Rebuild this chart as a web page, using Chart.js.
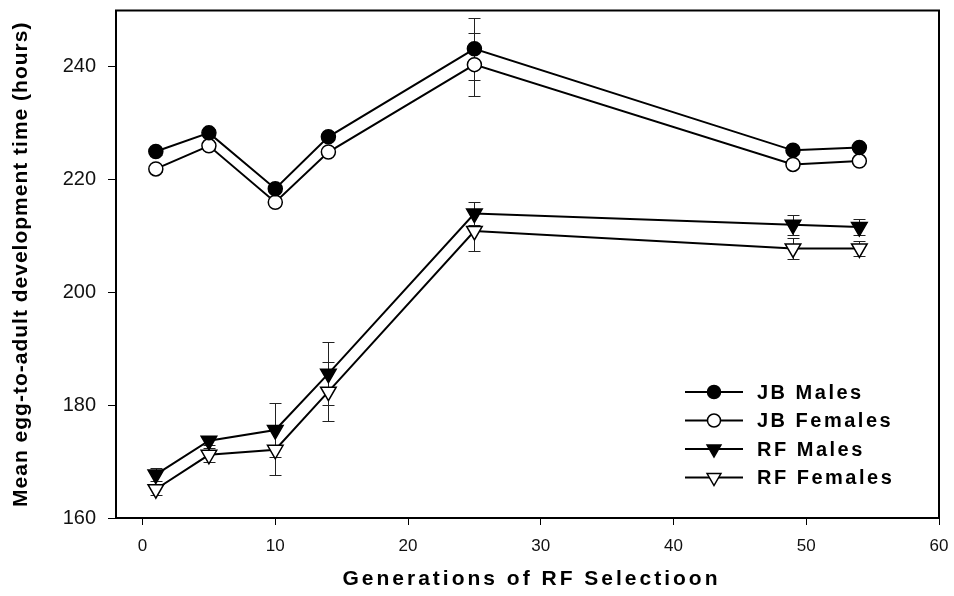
<!DOCTYPE html>
<html>
<head>
<meta charset="utf-8">
<script src="https://cdn.jsdelivr.net/npm/chart.js@4.4.1/dist/chart.umd.min.js"></script>
<style>
  html, body { margin: 0; padding: 0; background: #fff; }
  #box { width: 954px; height: 596px; }
</style>
</head>
<body>
<div id="box"><canvas id="grafico"></canvas></div>
<script>
// geracoes de selecao (eixo x)
var geracoes = [1, 5, 10, 14, 25, 49, 54];

// medias (horas)
var jbMachos = [225.0, 228.3, 218.4, 227.6, 243.2, 225.2, 225.7];
var jbFemeas = [221.9, 226.0, 216.0, 224.9, 240.4, 222.7, 223.3];
var rfMachos = [167.7, 173.7, 175.6, 185.6, 214.0, 212.0, 211.6];
var rfFemeas = [165.1, 171.2, 172.1, 182.4, 210.9, 207.8, 207.8];

// erro padrao
var erroJbMachos = [0.6, 0.6, 0.6, 0.6, 5.5, 0.6, 0.6];
var erroJbFemeas = [0.6, 0.6, 0.6, 0.6, 5.6, 0.6, 0.6];
var erroRfMachos = [1.1, 0.8, 4.8, 5.6, 2.0, 1.8, 1.4];
var erroRfFemeas = [1.0, 1.3, 4.4, 5.2, 3.5, 1.9, 1.3];

var ticksX = [0, 10, 20, 30, 40, 50, 60];
var ticksY = [160, 180, 200, 220, 240];

var tituloX = "Generations of RF Selectioon";
var tituloY = "Mean egg-to-adult development time (hours)";

var fonte = "Arial, 'Liberation Sans', sans-serif";

function pontos(valores) {
  var lista = [];
  for (var i = 0; i < geracoes.length; i++) {
    lista.push({ x: geracoes[i], y: valores[i] });
  }
  return lista;
}

function serie(nome, valores, erros, estilo, preenchido) {
  var triangulo = estilo == "triangle";
  return {
    label: nome,
    data: pontos(valores),
    erro: erros,
    borderColor: "black",
    borderWidth: 2,
    pointStyle: estilo,
    pointRotation: triangulo ? 180 : 0,
    pointRadius: triangulo ? 9 : 7,
    pointBorderWidth: 1.5,
    pointBorderColor: "black",
    pointBackgroundColor: preenchido ? "black" : "white",
    tension: 0,
    fill: false,
  };
}

// marcador desenhado a mao (legenda)
function marcador(ctx, ds, x, y) {
  var r = ds.pointStyle == "triangle" ? 8 : 6.5;
  ctx.beginPath();
  if (ds.pointStyle == "triangle") {
    ctx.moveTo(x - r * 0.866, y - r * 0.5);
    ctx.lineTo(x + r * 0.866, y - r * 0.5);
    ctx.lineTo(x, y + r);
    ctx.closePath();
  } else {
    ctx.arc(x, y, r, 0, Math.PI * 2);
  }
  ctx.fillStyle = ds.pointBackgroundColor;
  ctx.fill();
  ctx.lineWidth = 1.5;
  ctx.strokeStyle = "black";
  ctx.stroke();
}

var barrasErro = {
  id: "barrasErro",
  beforeDatasetsDraw: function (chart) {
    var ctx = chart.ctx;
    var sx = chart.scales.x;
    var sy = chart.scales.y;
    ctx.save();
    ctx.strokeStyle = "#222";
    ctx.lineWidth = 1;
    chart.data.datasets.forEach(function (ds) {
      ds.data.forEach(function (p, i) {
        var x = Math.round(sx.getPixelForValue(p.x)) + 0.5;
        var cima = Math.round(sy.getPixelForValue(p.y + ds.erro[i])) + 0.5;
        var baixo = Math.round(sy.getPixelForValue(p.y - ds.erro[i])) + 0.5;
        ctx.beginPath();
        ctx.moveTo(x, cima);
        ctx.lineTo(x, baixo);
        ctx.moveTo(x - 6, cima);
        ctx.lineTo(x + 6, cima);
        ctx.moveTo(x - 6, baixo);
        ctx.lineTo(x + 6, baixo);
        ctx.stroke();
      });
    });
    ctx.restore();
  },
};

var moldura = {
  id: "moldura",
  afterDraw: function (chart) {
    var ctx = chart.ctx;
    var a = chart.chartArea;
    ctx.save();

    // caixa do grafico
    ctx.strokeStyle = "black";
    ctx.lineWidth = 2;
    ctx.strokeRect(a.left, a.top, a.right - a.left, a.bottom - a.top);

    // titulos dos eixos
    ctx.fillStyle = "black";
    ctx.textAlign = "center";
    ctx.textBaseline = "middle";
    ctx.font = "bold 21px " + fonte;
    ctx.letterSpacing = "3px";
    ctx.fillText(tituloX, (a.left + a.right) / 2 + 4, 579);

    ctx.save();
    ctx.translate(21, (a.top + a.bottom) / 2);
    ctx.rotate(-Math.PI / 2);
    ctx.letterSpacing = "1px";
    ctx.fillText(tituloY, 0, 0);
    ctx.restore();

    // legenda
    ctx.font = "bold 20px " + fonte;
    ctx.letterSpacing = "2.5px";
    ctx.textAlign = "left";
    chart.data.datasets.forEach(function (ds, i) {
      var y = a.bottom - 126 + i * 28.5;
      var x0 = a.right - 254;
      ctx.beginPath();
      ctx.moveTo(x0, y);
      ctx.lineTo(x0 + 58, y);
      ctx.lineWidth = 2;
      ctx.strokeStyle = "black";
      ctx.stroke();
      marcador(ctx, ds, x0 + 29, y);
      ctx.fillStyle = "black";
      ctx.fillText(ds.label, x0 + 72, y + 1);
    });
    ctx.restore();
  },
};

Chart.defaults.font.family = fonte;
Chart.defaults.color = "#111";

new Chart(document.getElementById("grafico"), {
  type: "line",
  data: {
    datasets: [
      serie("JB Males", jbMachos, erroJbMachos, "circle", true),
      serie("JB Females", jbFemeas, erroJbFemeas, "circle", false),
      serie("RF Males", rfMachos, erroRfMachos, "triangle", true),
      serie("RF Females", rfFemeas, erroRfFemeas, "triangle", false),
    ],
  },
  options: {
    responsive: true,
    maintainAspectRatio: false,
    animation: false,
    layout: { padding: { left: 0, right: 15, top: 8, bottom: 0 } },
    plugins: {
      legend: { display: false },
      tooltip: { enabled: false },
    },
    scales: {
      x: {
        type: "linear",
        min: -2,
        max: 60,
        afterBuildTicks: function (scale) {
          scale.ticks = ticksX.map(function (v) { return { value: v }; });
        },
        afterFit: function (scale) {
          scale.height = 78;
          scale.paddingLeft = 0;
          scale.paddingRight = 0;
        },
        border: { display: false },
        grid: {
          drawOnChartArea: false,
          drawTicks: true,
          tickLength: 7,
          tickColor: "black",
          lineWidth: 1,
        },
        ticks: {
          padding: 11,
          maxRotation: 0,
          color: "#111",
          font: { size: 17 },
        },
      },
      y: {
        min: 160,
        max: 250,
        afterBuildTicks: function (scale) {
          scale.ticks = ticksY.map(function (v) { return { value: v }; });
        },
        afterFit: function (scale) {
          scale.width = 116;
          scale.paddingTop = 0;
          scale.paddingBottom = 0;
        },
        border: { display: false },
        grid: {
          drawOnChartArea: false,
          drawTicks: true,
          tickLength: 8,
          tickColor: "black",
          lineWidth: 1,
        },
        ticks: {
          padding: 12,
          color: "#111",
          font: { size: 20 },
        },
      },
    },
  },
  plugins: [barrasErro, moldura],
});
</script>
</body>
</html>
